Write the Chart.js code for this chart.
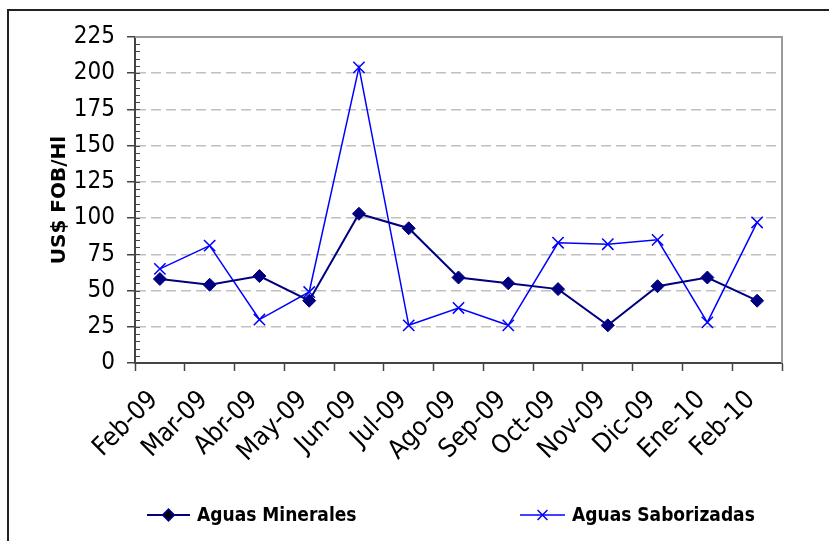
<!DOCTYPE html>
<html>
<head>
<meta charset="utf-8">
<script src="https://cdn.jsdelivr.net/npm/chart.js@4.4.0/dist/chart.umd.min.js"></script>
<style>
  html, body { margin: 0; padding: 0; background: #fff; }
  #wrap { width: 829px; height: 541px; }
</style>
</head>
<body>
<div id="wrap"><canvas id="chart" width="829" height="541"></canvas></div>
<script>
var categories = ['Feb-09','Mar-09','Abr-09','May-09','Jun-09','Jul-09','Ago-09','Sep-09','Oct-09','Nov-09','Dic-09','Ene-10','Feb-10'];
var minerales = [58, 54, 60, 43, 103, 93, 59, 55, 51, 26, 53, 59, 43];
var saborizadas = [65, 81, 30, 49, 204, 26, 38, 26, 83, 82, 85, 28, 97];
var seriesNames = ['Aguas Minerales', 'Aguas Saborizadas'];
var yTicks = [0, 25, 50, 75, 100, 125, 150, 175, 200, 225];

var FONT = "'DejaVu Sans Condensed', 'DejaVu Sans', sans-serif";

// frame, plot border, minor ticks and legend
var extras = {
    id: 'extras',
    beforeDraw: function(chart) {
        var ctx = chart.ctx;
        ctx.save();
        ctx.fillStyle = '#fff';
        ctx.fillRect(0, 0, chart.width, chart.height);
        ctx.restore();
    },
    beforeDatasetsDraw: function(chart) {
        var ctx = chart.ctx, a = chart.chartArea, y = chart.scales.y;
        ctx.save();
        ctx.strokeStyle = '#9a9a9a';
        ctx.lineWidth = 2;
        ctx.beginPath();
        ctx.moveTo(a.left, a.top);
        ctx.lineTo(a.right, a.top);
        ctx.lineTo(a.right, a.bottom);
        ctx.stroke();
        // minor ticks inside the y axis
        ctx.strokeStyle = '#444';
        ctx.lineWidth = 1;
        ctx.beginPath();
        for (var v = 5; v < 225; v += 5) {
            var py = Math.round(y.getPixelForValue(v)) + 0.5;
            ctx.moveTo(a.left, py);
            ctx.lineTo(a.left + 5, py);
        }
        ctx.stroke();
        ctx.restore();
    },
    afterDraw: function(chart) {
        var ctx = chart.ctx;
        ctx.save();
        // outer frame
        ctx.strokeStyle = '#222';
        ctx.lineWidth = 2;
        ctx.beginPath();
        ctx.moveTo(8, chart.height);
        ctx.lineTo(8, 10);
        ctx.lineTo(chart.width, 10);
        ctx.stroke();
        // legend
        var items = [{x: 147, w: 43, tx: 197}, {x: 520, w: 45, tx: 572}];
        var ly = 515;
        items.forEach(function(it, i) {
            var ds = chart.data.datasets[i];
            ctx.strokeStyle = ds.borderColor;
            ctx.lineWidth = ds.borderWidth;
            ctx.beginPath();
            ctx.moveTo(it.x, ly);
            ctx.lineTo(it.x + it.w, ly);
            ctx.stroke();
            Chart.helpers.drawPoint(ctx, {
                pointStyle: ds.pointStyle,
                radius: ds.pointRadius - 1,
                borderWidth: ds.pointBorderWidth,
                rotation: 0
            }, it.x + it.w / 2, ly);
            ctx.fillStyle = '#000';
            ctx.font = 'bold 19px ' + FONT;
            ctx.textBaseline = 'middle';
            ctx.fillText(seriesNames[i], it.tx, ly + 1);
        });
        ctx.restore();
    }
};

new Chart(document.getElementById('chart'), {
    type: 'line',
    data: {
        labels: categories,
        datasets: [{
            label: seriesNames[0],
            data: minerales,
            borderColor: '#000080',
            backgroundColor: '#000080',
            borderWidth: 2,
            pointStyle: 'rectRot',
            pointRadius: 6.5,
            pointBorderWidth: 1,
            pointBackgroundColor: '#000080',
            pointBorderColor: '#000080',
            tension: 0
        }, {
            label: seriesNames[1],
            data: saborizadas,
            borderColor: '#0000ff',
            backgroundColor: '#0000ff',
            borderWidth: 1.5,
            pointStyle: 'crossRot',
            pointRadius: 8,
            pointBorderWidth: 1.5,
            pointBorderColor: '#0000ff',
            tension: 0
        }]
    },
    options: {
        responsive: false,
        animation: false,
        layout: { padding: { left: 8, top: 37, right: 47, bottom: 0 } },
        plugins: {
            legend: { display: false },
            tooltip: { enabled: false }
        },
        scales: {
            x: {
                offset: true,
                afterFit: function(s) { s.height = 178; },
                grid: {
                    offset: true,
                    drawOnChartArea: false,
                    tickLength: 8,
                    tickColor: '#444',
                    tickWidth: 1.5
                },
                border: { color: '#444', width: 2 },
                ticks: {
                    autoSkip: false,
                    maxRotation: 45,
                    minRotation: 45,
                    padding: 14,
                    labelOffset: -6,
                    color: '#000',
                    font: { family: FONT, size: 26 }
                }
            },
            y: {
                min: 0,
                max: 225,
                afterFit: function(s) { s.width = 127; },
                afterBuildTicks: function(s) {
                    s.ticks = yTicks.map(function(v) { return {value: v}; });
                },
                grid: {
                    color: function(c) {
                        return (c.tick && (c.tick.value === 0 || c.tick.value === 225)) ? 'rgba(0,0,0,0)' : '#c0c0c0';
                    },
                    lineWidth: 1.5,
                    tickBorderDash: [],
                    tickColor: '#444',
                    tickLength: 8,
                    tickWidth: 1.5
                },
                border: { color: '#444', width: 2, dash: [10, 5] },
                ticks: {
                    stepSize: 25,
                    padding: 12,
                    color: '#000',
                    font: { family: FONT, size: 24 }
                },
                title: {
                    display: true,
                    text: 'US$ FOB/Hl',
                    color: '#000',
                    padding: { top: 40, bottom: 0 },
                    font: { family: "'DejaVu Sans', sans-serif", size: 20, weight: 'bold' }
                }
            }
        }
    },
    plugins: [extras]
});
</script>
</body>
</html>
